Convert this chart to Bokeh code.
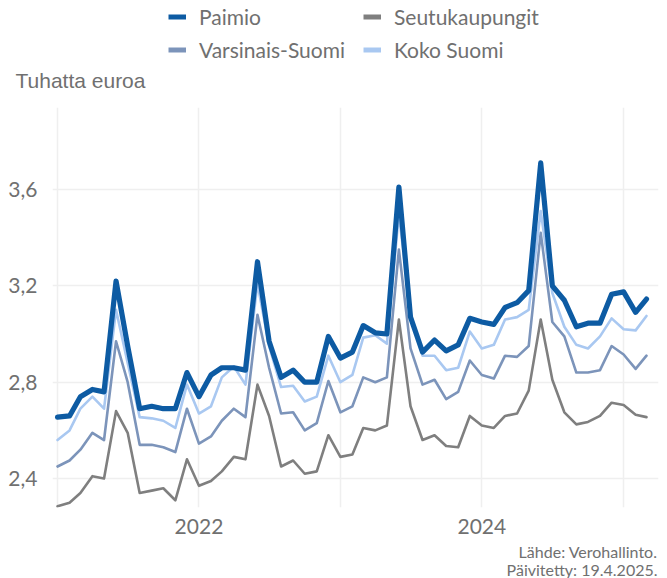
import pandas as pd
from bokeh.plotting import figure
from bokeh.layouts import column
from bokeh.models import (Range1d, FixedTicker, CustomJSTickFormatter, DatetimeTickFormatter,
                          Legend, LegendItem, Label, Title)
from bokeh.embed import file_html
from bokeh.resources import INLINE

# ---- data (thousand euros, monthly Jan 2021 - Mar 2025) ----
months = pd.date_range("2021-01-01", periods=51, freq="MS")

paimio = [2.655, 2.66, 2.74, 2.77, 2.76, 3.22, 2.95, 2.69, 2.70, 2.69,
          2.69, 2.84, 2.74, 2.83, 2.86, 2.86, 2.85, 3.30, 2.97, 2.82,
          2.85, 2.80, 2.80, 2.99, 2.90, 2.925, 3.035, 3.005, 3.00, 3.61,
          3.07, 2.925, 2.975, 2.93, 2.955, 3.065, 3.05, 3.04, 3.11, 3.13,
          3.18, 3.71, 3.20, 3.14, 3.03, 3.045, 3.045, 3.165, 3.175, 3.09, 3.145]

koko_suomi = [2.56, 2.60, 2.69, 2.74, 2.69, 3.10, 2.88, 2.655, 2.65, 2.64,
              2.61, 2.79, 2.67, 2.70, 2.82, 2.865, 2.79, 3.21, 2.95, 2.78,
              2.785, 2.72, 2.74, 2.91, 2.80, 2.83, 2.985, 2.995, 2.96, 3.50,
              3.085, 2.91, 2.91, 2.85, 2.86, 3.01, 2.94, 2.955, 3.06, 3.07,
              3.10, 3.51, 3.17, 3.03, 2.955, 2.94, 2.99, 3.065, 3.02, 3.015, 3.075]

varsinais_suomi = [2.45, 2.475, 2.52, 2.59, 2.56, 2.97, 2.80, 2.54, 2.54, 2.53,
                   2.51, 2.69, 2.545, 2.575, 2.64, 2.69, 2.655, 3.08, 2.86, 2.67,
                   2.675, 2.60, 2.63, 2.805, 2.675, 2.70, 2.82, 2.80, 2.82, 3.35,
                   2.94, 2.79, 2.81, 2.73, 2.76, 2.89, 2.83, 2.815, 2.91, 2.905,
                   2.95, 3.42, 3.05, 2.99, 2.84, 2.84, 2.85, 2.95, 2.915, 2.855, 2.91]

seutukaupungit = [2.285, 2.30, 2.34, 2.41, 2.40, 2.68, 2.59, 2.34, 2.35, 2.36,
                  2.31, 2.48, 2.37, 2.39, 2.43, 2.49, 2.48, 2.79, 2.66, 2.45,
                  2.475, 2.42, 2.43, 2.58, 2.49, 2.50, 2.61, 2.60, 2.62, 3.06,
                  2.70, 2.56, 2.58, 2.535, 2.53, 2.66, 2.62, 2.61, 2.66, 2.67,
                  2.765, 3.06, 2.81, 2.675, 2.625, 2.635, 2.66, 2.715, 2.705, 2.665, 2.655]

y_ticks = [2.4, 2.8, 3.2, 3.6]
x_label_years = [2022, 2024]
x_grid_years = [2021, 2023, 2025]

# ---- styling ----
TXT = "#707070"
GRID = "#efefef"
FONT = "Lato"
W = 667
FL, FR = 52, 9          # left / right borders shared by all stacked figures

def ms(year):
    return pd.Timestamp(f"{year}-01-01").value // 10**6

x_start = pd.Timestamp("2020-12-19").value // 10**6
x_end = pd.Timestamp("2025-04-01").value // 10**6

series = [
    ("Seutukaupungit", seutukaupungit, "#7f7f7f", 2.6),
    ("Varsinais-Suomi", varsinais_suomi, "#7c94ba", 2.6),
    ("Koko Suomi", koko_suomi, "#a9c8f1", 2.6),
    ("Paimio", paimio, "#0d5ba3", 5.2),
]

def blank(h, bottom=0):
    f = figure(width=W, height=h, output_backend="svg", toolbar_location=None,
               x_range=Range1d(FL, W - FR), y_range=Range1d(0, h),
               x_axis_location=None, y_axis_location=None,
               min_border_left=FL, min_border_right=FR, min_border_top=0,
               min_border_bottom=bottom)
    f.grid.visible = False
    f.outline_line_color = None
    return f

# ---- header: legend + unit label ----
HEAD_H = 107
HEAD_BOTTOM = 41
head = blank(HEAD_H, bottom=HEAD_BOTTOM)
hr = {}
for name, vals, col, w in series:
    # same data, far outside the header's range: only used for legend swatches
    hr[name] = head.line(months, vals, line_color=col, line_width=5)

head.add_layout(Title(text="Tuhatta euroa", align="left", offset=-(FL - 15),
                      text_font="Liberation Sans", text_font_size="21px",
                      text_font_style="normal", text_color=TXT, standoff=0), "below")

HEAD_FRAME = HEAD_H - HEAD_BOTTOM  # height of header frame

def make_legend(items, row_center):
    bottom = row_center + 10.5
    return Legend(items=[LegendItem(label=n, renderers=[hr[n]]) for n in items],
                  orientation="horizontal", location=(168 - FL, HEAD_FRAME - bottom),
                  label_text_font=FONT, label_text_font_size="21px", label_text_color=TXT,
                  glyph_width=18, glyph_height=21, label_height=21, label_width=150,
                  label_standoff=13, spacing=14, padding=0, margin=0,
                  border_line_color=None, background_fill_alpha=0)

head.add_layout(make_legend(["Paimio", "Seutukaupungit"], 18.7))
head.add_layout(make_legend(["Varsinais-Suomi", "Koko Suomi"], 51.7))

# ---- main chart ----
p = figure(frame_width=606, frame_height=400, x_axis_type="datetime",
           output_backend="svg", toolbar_location=None,
           x_range=Range1d(x_start, x_end), y_range=Range1d(2.28, 3.94),
           min_border_left=FL, min_border_right=FR, min_border_top=0, min_border_bottom=32)
p.outline_line_color = None

for name, vals, col, w in series:
    p.line(months, vals, line_color=col, line_width=w, line_join="round", line_cap="round")

p.xaxis.ticker = FixedTicker(ticks=[ms(y) for y in x_label_years],
                             minor_ticks=[ms(y) for y in x_grid_years])
p.xaxis.formatter = DatetimeTickFormatter(years="%Y", months="%Y", days="%Y")
p.yaxis.ticker = FixedTicker(ticks=y_ticks)
p.yaxis.formatter = CustomJSTickFormatter(code="return tick.toFixed(1).replace('.', ',')")
for ax in (p.xaxis[0], p.yaxis[0]):
    ax.axis_line_color = None
    ax.major_tick_line_color = None
    ax.minor_tick_line_color = None
    ax.major_label_text_color = TXT
    ax.major_label_text_font = FONT
    ax.major_label_text_font_size = "21px"
p.yaxis.major_label_standoff = 9
p.xaxis.major_label_standoff = 5

p.xgrid.grid_line_color = GRID
p.xgrid.minor_grid_line_color = GRID
p.xgrid.grid_line_width = 1.5
p.xgrid.minor_grid_line_width = 1.5
p.ygrid.grid_line_color = GRID
p.ygrid.grid_line_width = 1.5

# ---- footer: source ----
foot = blank(39)
foot.add_layout(Label(x=657, y=27, text="Lähde: Verohallinto.", text_font=FONT,
                      text_font_size="16px", text_color=TXT,
                      text_baseline="middle", text_align="right"))
foot.add_layout(Label(x=657, y=9, text="Päivitetty: 19.4.2025.", text_font=FONT,
                      text_font_size="16px", text_color=TXT,
                      text_baseline="middle", text_align="right"))

layout = column(head, p, foot, spacing=0)
open("out.html", "w").write(file_html(layout, INLINE))
